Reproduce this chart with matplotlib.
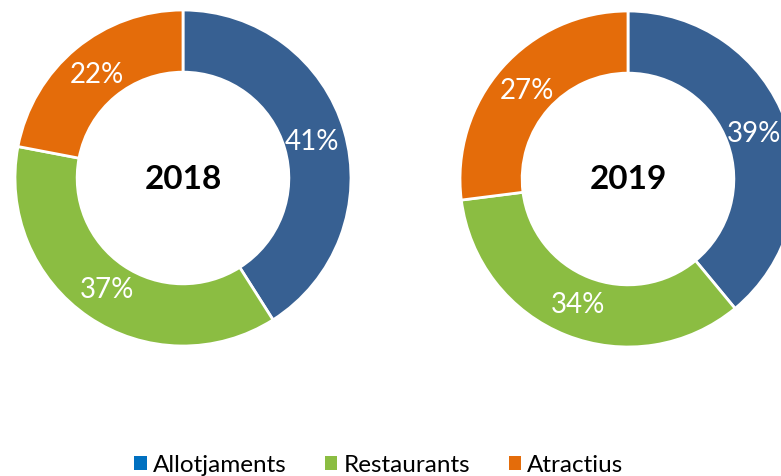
import matplotlib
matplotlib.use('Agg')
from matplotlib import pyplot as plt
from matplotlib.patches import Patch

years = ['2018', '2019']
categories = ['Allotjaments', 'Restaurants', 'Atractius']
shares_2018 = [41, 37, 22]
shares_2019 = [39, 34, 27]

wedge_colors = ['#376092', '#8BBD42', '#E46C0A']
legend_colors = ['#0070C0', '#8BBD42', '#E46C0A']

W, H = 781, 477
fig = plt.figure(figsize=(W / 100, H / 100), dpi=100)
plt.rcParams['font.family'] = ['Lato', 'DejaVu Sans']


def donut(cx, cy, r, values, title):
    # axes placed in pixel coords, y from top
    ax = fig.add_axes([(cx - r) / W, (H - cy - r) / H, 2 * r / W, 2 * r / H])
    wedges, texts, autotexts = ax.pie(
        values, colors=wedge_colors, startangle=90, counterclock=False,
        radius=1, autopct=lambda p: '%d%%' % round(p), pctdistance=0.8,
        wedgeprops=dict(width=0.37, edgecolor='white', linewidth=2),
        textprops=dict(color='white', fontsize=20))
    ax.set_xlim(-1, 1)
    ax.set_ylim(-1, 1)
    ax.set_aspect('equal')
    ax.text(0, 0, title, ha='center', va='center', fontsize=24,
            fontweight='bold', color='black')
    return ax


donut(183, 179, 168, shares_2018, years[0])
donut(628, 180, 168, shares_2019, years[1])

handles = [Patch(facecolor=c, edgecolor='none') for c in legend_colors]
fig.legend(handles, categories, loc='center', bbox_to_anchor=(379 / W, 1 - 466 / H),
           ncol=3, frameon=False, fontsize=17.5, handlelength=0.5, handleheight=0.5,
           handletextpad=0.25, columnspacing=1.6)

fig.savefig('out.png', dpi=100)
